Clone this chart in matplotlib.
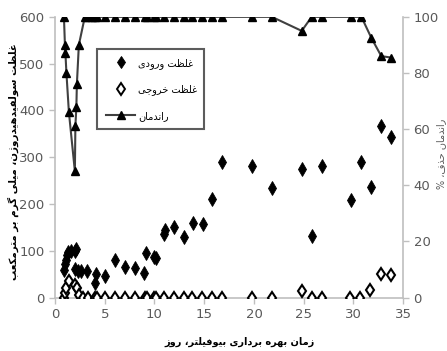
import matplotlib
matplotlib.use("Agg")
import matplotlib.pyplot as plt
from matplotlib.lines import Line2D

# inlet H2S concentration (mg/m3)
days_in = [0.9, 1.0, 1.1, 1.2, 1.3, 1.6, 2.0, 2.15, 2.05, 2.3, 2.6, 3.2, 4.0, 4.15, 5.0,
           6.0, 7.0, 8.0, 8.9, 9.1, 10.0, 10.2, 11.0, 11.1, 12.0, 13.0, 13.9, 14.9,
           15.8, 16.8, 19.8, 21.8, 24.8, 25.8, 26.8, 29.8, 30.8, 31.8, 32.8, 33.8]
conc_in = [60, 72, 80, 92, 97, 100, 100, 104, 62, 57, 58, 57, 32, 51, 47,
           80, 66, 63, 53, 95, 87, 84, 137, 144, 150, 130, 159, 158,
           210, 289, 281, 235, 274, 132, 281, 209, 289, 236, 367, 344]

# outlet H2S concentration (mg/m3)
days_out = [0.9, 1.0, 1.1, 1.4, 2.0, 2.2, 2.4, 2.8, 3.3, 4.0, 4.2, 5.0, 6.0, 7.0, 8.0,
            9.0, 9.2, 10.0, 10.2, 11.0, 12.0, 13.0, 13.8, 14.8, 15.8, 16.8, 19.8,
            21.8, 24.8, 25.8, 26.8, 29.7, 30.7, 31.7, 32.8, 33.8]
conc_out = [0, 10, 20, 35, 27, 20, 5, 0, 0, 0, 0, 0, 0, 0, 0,
            0, 0, 0, 0, 0, 0, 0, 0, 0, 0, 0, 0,
            0, 15, 0, 0, 0, 0, 17, 50, 48]

# removal efficiency (%)
days_eff = [0.9, 1.0, 1.05, 1.15, 1.4, 2.0, 2.05, 2.15, 2.2, 2.4, 3.0, 3.3, 3.7, 4.0, 4.2,
            5.0, 6.0, 7.0, 8.0, 9.0, 9.2, 10.0, 10.2, 11.0, 12.0, 13.0, 13.8, 14.8,
            15.8, 16.8, 19.8, 21.8, 24.8, 25.8, 26.8, 29.8, 30.8, 31.8, 32.8, 33.8]
eff = [100, 90, 87, 80, 66, 45, 61, 68, 76, 90, 100, 100, 100, 100, 100,
       100, 100, 100, 100, 100, 100, 100, 100, 100, 100, 100, 100, 100,
       100, 100, 100, 100, 95, 100, 100, 100, 100, 92.5, 86, 85.5]

label_in = "غلظت ورودی"
label_out = "غلظت خروجی"
label_eff = "راندمان"
xlabel = "زمان بهره برداری بیوفیلتر، روز"
ylabel = "غلظت سولفیدهیدروژن، میلی گرم بر مترمکعب"
ylabel2 = "راندمان حذف، %"

# minimal Persian shaping (matplotlib has no complex text layout)
FORMS = {
    "ا": ("\uFE8D", "\uFE8E", None, None),
    "ب": ("\uFE8F", "\uFE90", "\uFE91", "\uFE92"),
    "ت": ("\uFE95", "\uFE96", "\uFE97", "\uFE98"),
    "ج": ("\uFE9D", "\uFE9E", "\uFE9F", "\uFEA0"),
    "ح": ("\uFEA1", "\uFEA2", "\uFEA3", "\uFEA4"),
    "خ": ("\uFEA5", "\uFEA6", "\uFEA7", "\uFEA8"),
    "د": ("\uFEA9", "\uFEAA", None, None),
    "ذ": ("\uFEAB", "\uFEAC", None, None),
    "ر": ("\uFEAD", "\uFEAE", None, None),
    "ز": ("\uFEAF", "\uFEB0", None, None),
    "ژ": ("\uFB8A", "\uFB8B", None, None),
    "س": ("\uFEB1", "\uFEB2", "\uFEB3", "\uFEB4"),
    "ظ": ("\uFEC5", "\uFEC6", "\uFEC7", "\uFEC8"),
    "ع": ("\uFEC9", "\uFECA", "\uFECB", "\uFECC"),
    "غ": ("\uFECD", "\uFECE", "\uFECF", "\uFED0"),
    "ف": ("\uFED1", "\uFED2", "\uFED3", "\uFED4"),
    "ک": ("\uFB8E", "\uFB8F", "\uFB90", "\uFB91"),
    "گ": ("\uFB92", "\uFB93", "\uFB94", "\uFB95"),
    "ل": ("\uFEDD", "\uFEDE", "\uFEDF", "\uFEE0"),
    "م": ("\uFEE1", "\uFEE2", "\uFEE3", "\uFEE4"),
    "ن": ("\uFEE5", "\uFEE6", "\uFEE7", "\uFEE8"),
    "ه": ("\uFEE9", "\uFEEA", "\uFEEB", "\uFEEC"),
    "و": ("\uFEED", "\uFEEE", None, None),
    "ی": ("\uFBFC", "\uFBFD", "\uFBFE", "\uFBFF"),
}


def shape(text):
    out = []
    for i, c in enumerate(text):
        if c not in FORMS:
            out.append(c)
            continue
        prev = text[i - 1] if i > 0 else ""
        nxt = text[i + 1] if i + 1 < len(text) else ""
        jp = prev in FORMS and FORMS[prev][2] is not None
        jn = nxt in FORMS and FORMS[c][2] is not None
        iso, fin, ini, med = FORMS[c]
        if jp and jn:
            out.append(med)
        elif jp:
            out.append(fin)
        elif jn:
            out.append(ini)
        else:
            out.append(iso)
    return "".join(reversed(out))


NUM_FONT = ["Liberation Sans Narrow", "DejaVu Sans"]
FA_FONT = ["DejaVu Sans"]
GRAY = "#595959"
AXIS = "#bfbfbf"

fig = plt.figure(figsize=(4.47, 3.51), dpi=100)
ax = fig.add_axes([0.123, 0.152, 0.779, 0.800])
ax2 = ax.twinx()

ax.plot(days_in, conc_in, linestyle="none", marker="d", ms=7, mew=0.6, color="black", zorder=3)
ax.plot(days_out, conc_out, linestyle="none", marker="d", ms=6.5, mfc="white",
        mec="black", mew=1.5, zorder=3)
ax2.plot(days_eff, eff, color="#404040", lw=1.5, marker="^", ms=6, mfc="black",
         mec="black", zorder=4)

ax.set_xlim(0, 35)
ax.set_ylim(0, 600)
ax2.set_ylim(0, 100)
ax.set_xticks(range(0, 36, 5))
ax.set_yticks(range(0, 601, 100))
ax2.set_yticks(range(0, 101, 20))

for a in (ax, ax2):
    a.spines["top"].set_visible(False)
    for s in ("left", "right", "bottom"):
        a.spines[s].set_color(AXIS)
        a.spines[s].set_linewidth(1.2)
    a.tick_params(colors=AXIS, labelcolor=GRAY, length=4, width=1, labelsize=9.5)
    for lab in a.get_yticklabels() + a.get_xticklabels():
        lab.set_family(NUM_FONT)
ax.spines["right"].set_visible(False)
ax2.spines["left"].set_visible(False)
ax2.spines["bottom"].set_visible(False)

fig.text(240 / 447, 1 - 342 / 351, shape(xlabel), family=FA_FONT, fontsize=7,
         fontweight="bold", ha="center", va="center")
fig.text(13 / 447, 1 - 162 / 351, shape(ylabel), family=FA_FONT, fontsize=7.4,
         fontweight="bold", rotation=90, ha="center", va="center")
fig.text(441 / 447, 1 - 154 / 351, shape(ylabel2), family=FA_FONT, fontsize=7,
         color=GRAY, rotation=90, ha="center", va="center")

handles = [
    Line2D([], [], linestyle="none", marker="d", ms=6, mew=0.6, color="black"),
    Line2D([], [], linestyle="none", marker="d", ms=6, mfc="white", mec="black", mew=1.4),
    Line2D([], [], color="#404040", lw=1.5, marker="^", ms=6, mfc="black", mec="black"),
]
leg = ax.legend(handles, [shape(label_in), shape(label_out), shape(label_eff)],
                loc="upper left", bbox_to_anchor=(0.122, 0.886, 0.306, 0.0), mode="expand",
                frameon=True, fancybox=False, labelspacing=1.6, borderpad=0.9,
                handlelength=3.0, handletextpad=0.3, borderaxespad=0.0,
                prop={"family": FA_FONT, "size": 7})
leg.get_frame().set_edgecolor("#333333")
leg.get_frame().set_linewidth(1.5)
leg.set_zorder(5)

fig.savefig("out.png", dpi=100)
